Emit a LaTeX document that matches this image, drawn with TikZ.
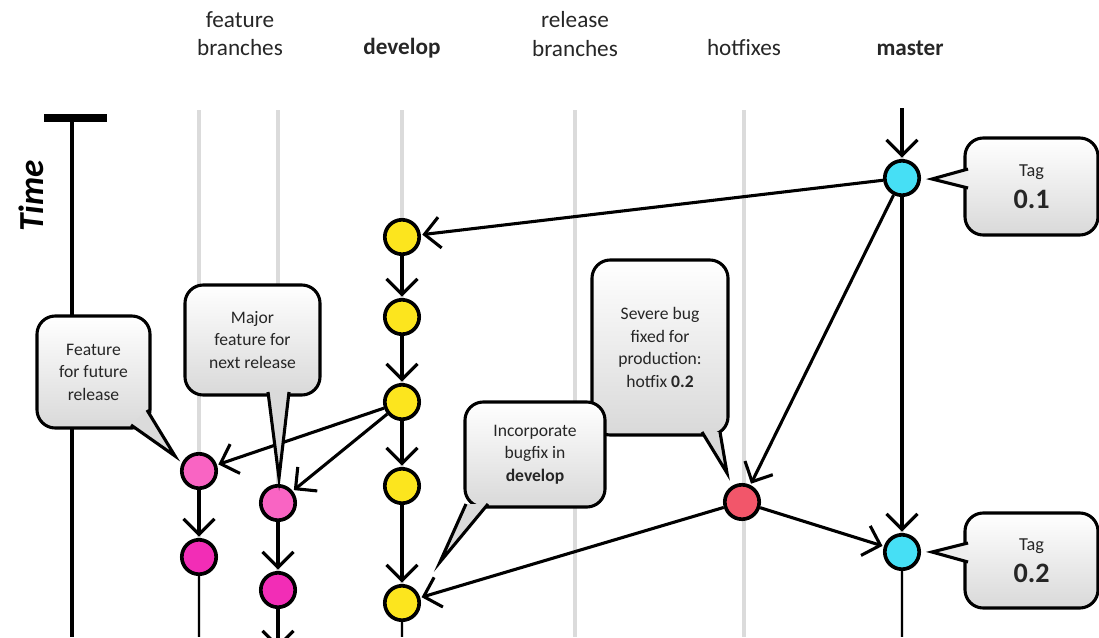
\documentclass[tikz,border=0pt]{standalone}
\usepackage{fontspec}
\setmainfont{Carlito}
\usetikzlibrary{arrows.meta}

\definecolor{devyellow}{HTML}{FCE51E}
\definecolor{featpink}{HTML}{F964C3}
\definecolor{featmagenta}{HTML}{F22DB6}
\definecolor{fixred}{HTML}{F2566A}
\definecolor{tagcyan}{HTML}{46DFF5}

\tikzset{
  commit/.style={circle, draw, line width=2.6pt, minimum size=0.86cm, inner sep=0pt},
  dev/.style={commit, fill=devyellow},
  feat/.style={commit, fill=featpink},
  featold/.style={commit, fill=featmagenta},
  fix/.style={commit, fill=fixred},
  tag/.style={commit, fill=tagcyan},
  flow/.style={line width=2.2pt, -{Straight Barb[length=11pt,width=22pt]}, shorten >=1pt},
  tail/.style={line width=1.8pt},
  lane/.style={line width=2.8pt, gray!28},
  head/.style={font=\fontsize{16.5}{20}\selectfont, align=center, text=black!85},
  note/.style={draw, line width=2.2pt, rounded corners=13pt, top color=white,
    bottom color=gray!30, align=center, text=black!85,
    font=\fontsize{12.5}{16}\selectfont, inner sep=2pt},
  notetip/.style={line width=2.2pt, line join=miter},
}

% pointer of a callout: base a, base b, tip, fill
\newcommand{\notetip}[4]{%
  \fill[#4] (#1) -- (#3) -- (#2) -- cycle;
  \draw[notetip] (#1) -- (#3) -- (#2);
}

\begin{document}
\begin{tikzpicture}
    \def\x{0.025}
    \def\y{-0.025}
    \useasboundingbox (0,0) rectangle (1099*\x, 637*\y);
    % lanes
    \foreach \lx in {199,278,402,575,744,902}
      \draw[lane] (\lx*\x, 110*\y) -- (\lx*\x, 637*\y);
    % time axis
    \node[font=\fontsize{25}{25}\selectfont\bfseries\itshape, rotate=90] (time) at (31*\x, 196*\y) {Time};
    \coordinate (T0) at (72*\x, 118*\y);
    \coordinate (T1) at (72*\x, 637*\y);
    \draw[line width=3pt] (T0) -- (T1);
    \draw[line width=5pt] (44*\x, 118*\y) -- (107*\x, 118*\y);
    % headers
    \node[head] (hfeat) at (240*\x, 34*\y) {feature\\branches};
    \node[head, font=\fontsize{16.5}{20}\selectfont\bfseries] (hdev) at (402*\x, 48*\y) {develop};
    \node[head] (hrel) at (575*\x, 34*\y) {release\\branches};
    \node[head] (hfix) at (744*\x, 48*\y) {hotfixes};
    \node[head, font=\fontsize{16.5}{20}\selectfont\bfseries] (hmaster) at (910*\x, 48*\y) {master};
    % commits
    \node[tag] (M1) at (902*\x, 178*\y) {};
    \node[tag] (M2) at (902*\x, 552*\y) {};
    \node[fix] (H1) at (742*\x, 502*\y) {};
    \node[dev] (D1) at (402*\x, 237*\y) {};
    \node[dev] (D2) at (402*\x, 317*\y) {};
    \node[dev] (D3) at (402*\x, 402*\y) {};
    \node[dev] (D4) at (402*\x, 486*\y) {};
    \node[dev] (D5) at (402*\x, 603*\y) {};
    \node[feat] (F1) at (199*\x, 471*\y) {};
    \node[featold] (F2) at (199*\x, 557*\y) {};
    \node[feat] (G1) at (278*\x, 503*\y) {};
    \node[featold] (G2) at (278*\x, 590*\y) {};
    \coordinate (Mtop) at (902*\x, 108*\y);
    \coordinate (Mend) at (902*\x, 637*\y);
    \coordinate (Dend) at (402*\x, 637*\y);
    \coordinate (Fend) at (199*\x, 637*\y);
    \coordinate (Gend) at (278*\x, 650*\y);
    % connectors
    \path (Mtop) edge [flow] (M1);
    \path (M1) edge [flow] (D1);
    \path (M1) edge [flow] (H1);
    \path (M1) edge [flow] (M2);
    \path (H1) edge [flow] (M2);
    \path (H1) edge [flow] (D5);
    \path (D1) edge [flow] (D2);
    \path (D2) edge [flow] (D3);
    \path (D3) edge [flow] (D4);
    \path (D4) edge [flow] (D5);
    \path (D3) edge [flow] (F1);
    \path (D3) edge [flow] (G1);
    \path (F1) edge [flow] (F2);
    \path (G1) edge [flow] (G2);
    \path (G2) edge [flow] (Gend);
    \path (F2) edge [tail] (Fend);
    \path (D5) edge [tail] (Dend);
    \path (M2) edge [tail] (Mend);
    % callouts
    \node[note, minimum width=2.825cm, minimum height=2.8cm] (ffr) at (93.5*\x, 372*\y) {Feature\\for future\\release};
    \coordinate (ffrA) at (131*\x, 425*\y);
    \coordinate (ffrB) at (147*\x, 410*\y);
    \coordinate (ffrT) at (175*\x, 456*\y);
    \notetip{ffrA}{ffrB}{ffrT}{gray!28}
    \node[note, minimum width=3.375cm, minimum height=2.75cm] (major) at (252.5*\x, 340*\y) {Major\\feature for\\next release};
    \coordinate (majorA) at (268*\x, 392*\y);
    \coordinate (majorB) at (289*\x, 392*\y);
    \coordinate (majorT) at (279*\x, 478*\y);
    \notetip{majorA}{majorB}{majorT}{gray!29}
    \node[note, minimum width=3.4cm, minimum height=4.375cm] (severe) at (660*\x, 347.5*\y) {Severe bug\\fixed for\\production:\\hotfix \textbf{0.2}};
    \coordinate (severeA) at (702*\x, 432*\y);
    \coordinate (severeB) at (720*\x, 432*\y);
    \coordinate (severeT) at (727*\x, 473*\y);
    \notetip{severeA}{severeB}{severeT}{gray!29}
    \node[note, minimum width=3.5cm, minimum height=2.625cm] (incorp) at (535*\x, 454.5*\y) {Incorporate\\bugfix in\\\textbf{develop}};
    \coordinate (incorpA) at (466*\x, 504*\y);
    \coordinate (incorpB) at (488*\x, 504*\y);
    \coordinate (incorpT) at (440*\x, 562*\y);
    \notetip{incorpA}{incorpB}{incorpT}{gray!29}
    \node[note, minimum width=3.325cm, minimum height=2.425cm] (tagA) at (1031.5*\x, 186.5*\y)
      {{\fontsize{13}{15}\selectfont Tag}\\[7pt]{\fontsize{20}{20}\selectfont\bfseries 0.1}};
    \coordinate (tagAa) at (968*\x, 169*\y);
    \coordinate (tagAb) at (968*\x, 188*\y);
    \coordinate (tagAt) at (932*\x, 179*\y);
    \notetip{tagAa}{tagAb}{tagAt}{gray!13}
    \node[note, minimum width=3.325cm, minimum height=2.375cm] (tagB) at (1031.5*\x, 560.5*\y)
      {{\fontsize{13}{15}\selectfont Tag}\\[7pt]{\fontsize{20}{20}\selectfont\bfseries 0.2}};
    \coordinate (tagBa) at (968*\x, 543*\y);
    \coordinate (tagBb) at (968*\x, 562*\y);
    \coordinate (tagBt) at (932*\x, 552*\y);
    \notetip{tagBa}{tagBb}{tagBt}{gray!13}
\end{tikzpicture}
\end{document}
